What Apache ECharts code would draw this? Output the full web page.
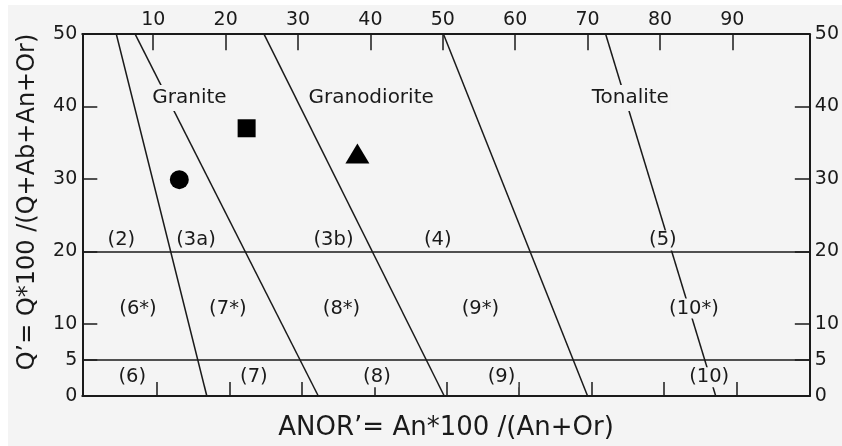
<!DOCTYPE html>
<html>
<head>
<meta charset="utf-8">
<script src="https://cdn.jsdelivr.net/npm/echarts@6/dist/echarts.min.js"></script>
<style>
  html, body { margin: 0; padding: 0; background: #f4f4f4; }
  #chart { width: 842px; height: 446px; }
</style>
</head>
<body>
<div id="chart"></div>
<script>
// Q'-ANOR classification diagram for granitoids

// Tick values
const xTickValues = [10, 20, 30, 40, 50, 60, 70, 80, 90];
const yLabelValues = [0, 5, 10, 20, 30, 40, 50];
const yTickValues = [5, 10, 20, 30, 40];

// Horizontal field boundaries (Q')
const qLevels = [5, 20];

// Inclined field boundaries: ANOR' at Q'=50 and at Q'=0
const boundaryTopX = [4.9, 7.5, 25.3, 50.1, 72.5];
const boundaryBottomX = [17.4, 32.8, 50.2, 70.0, 87.7];

// Rock-name labels
const rockNames = ['Granite', 'Granodiorite', 'Tonalite'];
const rockNameX = [15.0, 40.1, 75.9];
const rockNameQ = 41.2;

// Field numbers, upper row (Q' > 20)
const upperFields = ['(2)', '(3a)', '(3b)', '(4)', '(5)'];
const upperFieldX = [5.6, 15.9, 34.9, 49.3, 80.4];
const upperFieldQ = 21.5;

// Field numbers, middle row (5 < Q' < 20)
const middleFields = ['(6*)', '(7*)', '(8*)', '(9*)', '(10*)'];
const middleFieldX = [7.9, 20.3, 36.0, 55.2, 84.7];
const middleFieldQ = 12.1;

// Field numbers, lower row (Q' < 5)
const lowerFields = ['(6)', '(7)', '(8)', '(9)', '(10)'];
const lowerFieldX = [7.1, 23.9, 40.9, 58.1, 86.8];
const lowerFieldQ = 2.6;

// Samples: [ANOR', Q']
const sampleCircle = [13.6, 29.9];
const sampleSquare = [22.9, 37.0];
const sampleTriangle = [38.2, 33.5];

const INK = '#1a1a1a';
const BG = '#f4f4f4';
const FONT = '"DejaVu Sans", "Liberation Sans", sans-serif';

function textItems(names, xs, y) {
  return names.map((n, i) => ({ name: n, value: [xs[i], y] }));
}

const labelData = []
  .concat(textItems(rockNames, rockNameX, rockNameQ).map(d => Object.assign(d, {
    label: { fontSize: 20, padding: [3, 2] }
  })))
  .concat(textItems(upperFields, upperFieldX, upperFieldQ))
  .concat(textItems(middleFields, middleFieldX, middleFieldQ))
  .concat(textItems(lowerFields, lowerFieldX, lowerFieldQ));

const boundarySeries = boundaryTopX.map((tx, i) => ({
  type: 'line',
  data: [[tx, 50], [boundaryBottomX[i], 0]],
  showSymbol: false,
  symbol: 'none',
  silent: true,
  z: 2,
  lineStyle: { color: INK, width: 1.5 }
}));

const chart = echarts.init(document.getElementById('chart'), null, { renderer: 'canvas' });

chart.setOption({
  backgroundColor: BG,
  animation: false,
  textStyle: { fontFamily: FONT, color: INK },
  grid: { left: 82.3, top: 34.2, width: 728.4, height: 363.5, containLabel: false },
  xAxis: [
    {
      type: 'value',
      position: 'top',
      min: 0.2,
      max: 100.7,
      axisLine: { show: true, onZero: false, lineStyle: { color: INK, width: 2 } },
      axisTick: { show: true, inside: true, length: 16, customValues: xTickValues,
                  lineStyle: { color: INK, width: 1.5 } },
      axisLabel: { show: true, customValues: xTickValues, fontSize: 19, margin: 5,
                   color: INK, fontFamily: FONT },
      splitLine: { show: false }
    },
    {
      type: 'value',
      position: 'bottom',
      min: -0.35,
      max: 100.15,
      axisLine: { show: true, onZero: false, lineStyle: { color: INK, width: 2 } },
      axisTick: { show: true, inside: true, length: 14, customValues: xTickValues,
                  lineStyle: { color: INK, width: 1.5 } },
      axisLabel: { show: false },
      splitLine: { show: false },
      name: 'ANOR\u2019= An*100 /(An+Or)',
      nameLocation: 'middle',
      nameGap: 19,
      nameTextStyle: { fontSize: 26, color: INK, fontFamily: FONT }
    }
  ],
  yAxis: [
    {
      type: 'value',
      position: 'left',
      min: 0,
      max: 50,
      axisLine: { show: true, onZero: false, lineStyle: { color: INK, width: 2 } },
      axisTick: { show: true, inside: true, length: 15, customValues: yTickValues,
                  lineStyle: { color: INK, width: 1.5 } },
      axisLabel: { show: true, customValues: yLabelValues, fontSize: 19, margin: 5,
                   color: INK, fontFamily: FONT },
      splitLine: { show: false }
    },
    {
      type: 'value',
      position: 'right',
      min: 0,
      max: 50,
      axisLine: { show: true, onZero: false, lineStyle: { color: INK, width: 2 } },
      axisTick: { show: true, inside: true, length: 15, customValues: yTickValues,
                  lineStyle: { color: INK, width: 1.5 } },
      axisLabel: { show: true, customValues: yLabelValues, fontSize: 19, margin: 5,
                   color: INK, fontFamily: FONT },
      splitLine: { show: false }
    }
  ],
  graphic: [
    { type: 'rect', silent: true, shape: { x: 0, y: 0, width: 842, height: 5 }, style: { fill: '#ffffff' } },
    { type: 'rect', silent: true, shape: { x: 0, y: 0, width: 8, height: 446 }, style: { fill: '#ffffff' } },
    {
      type: 'text',
      silent: true,
      x: 28,
      y: 202,
      rotation: Math.PI / 2,
      style: {
        text: 'Q\u2019= Q*100 /(Q+Ab+An+Or)',
        font: '24px ' + FONT,
        fill: INK,
        textAlign: 'center',
        textVerticalAlign: 'middle'
      }
    }
  ],
  series: boundarySeries.concat([
    {
      // field and rock-name labels, boxed so they interrupt the boundary lines
      type: 'scatter',
      silent: true,
      z: 3,
      symbolSize: 1,
      itemStyle: { color: 'rgba(0,0,0,0)', opacity: 1 },
      data: labelData,
      label: {
        show: true,
        position: 'inside',
        formatter: '{b}',
        fontSize: 19.5,
        fontFamily: FONT,
        color: INK,
        opacity: 1,
        textBorderWidth: 0,
        backgroundColor: BG,
        padding: [0, 3]
      }
    },
    {
      // horizontal boundaries at Q' = 5 and Q' = 20
      type: 'line',
      data: [],
      silent: true,
      markLine: {
        silent: true,
        symbol: ['none', 'none'],
        label: { show: false },
        lineStyle: { color: INK, width: 1.5, type: 'solid' },
        data: qLevels.map(q => ({ yAxis: q }))
      }
    },
    {
      type: 'scatter',
      silent: true,
      z: 6,
      itemStyle: { color: '#000000', opacity: 1 },
      data: [
        { value: sampleCircle, symbol: 'circle', symbolSize: 19 },
        { value: sampleSquare, symbol: 'rect', symbolSize: 18 },
        { value: sampleTriangle, symbol: 'triangle', symbolSize: [24, 20] }
      ]
    }
  ])
});
</script>
</body>
</html>
